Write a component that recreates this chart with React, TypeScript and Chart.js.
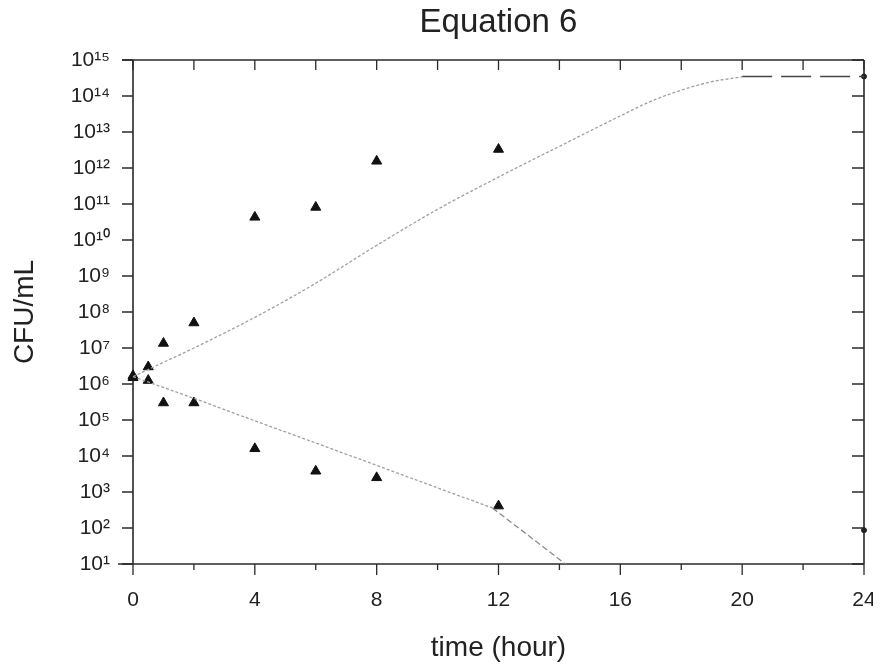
import React, { useEffect, useRef } from "react";
import { Chart, registerables } from "chart.js";

Chart.register(...registerables);

// ---- Data ----
const titleText = "Equation 6";
const xAxisTitle = "time (hour)";
const yAxisTitle = "CFU/mL";

// observed counts (triangles)
const growthHours = [0, 0.5, 1, 2, 4, 6, 8, 12];
const growthCFU = [1.7e6, 3e6, 1.35e7, 5e7, 4.3e10, 8.1e10, 1.55e12, 3.3e12];
const killHours = [0, 0.5, 1, 2, 4, 6, 8, 12];
const killCFU = [1.5e6, 1.26e6, 3e5, 3e5, 1.6e4, 3.8e3, 2.5e3, 4.1e2];

// end-point marks at 24 h
const endHours = [24, 24];
const endCFU = [3.5e14, 87];

// fitted curves
const upperFitHours = [0, 1, 2, 4, 6, 8, 10, 12, 14, 16, 17, 18, 19, 20];
const upperFitCFU = [1.6e6, 4e6, 1e7, 7.1e7, 6.3e8, 7.1e9, 7.1e10, 5.6e11, 4e12, 2.8e13, 7.1e13, 1.45e14, 2.5e14, 3.4e14];
const plateauHours = [20, 24];
const plateauCFU = [3.5e14, 3.5e14];
const lowerFitHours = [0, 2, 4, 6, 8, 10, 11.8];
const lowerFitCFU = [1.6e6, 4e5, 9.5e4, 2.3e4, 5.5e3, 1.3e3, 3.6e2];
const lowerTailHours = [11.8, 14.2];
const lowerTailCFU = [3.6e2, 10];

// axes
const xMin = 0;
const xMax = 24;
const xStep = 2;
const xLabelEvery = 4;
const yTickExponents = [1, 2, 3, 4, 5, 6, 7, 8, 9, 10, 11, 12, 13, 14, 15];

const SUP: Record<string, string> = {
  "0": "\u2070", "1": "\u00b9", "2": "\u00b2", "3": "\u00b3", "4": "\u2074",
  "5": "\u2075", "6": "\u2076", "7": "\u2077", "8": "\u2078", "9": "\u2079",
};
const supText = (n: number) => String(n).split("").map((c) => SUP[c] || c).join("");

const pts = (xs: number[], ys: number[]) => xs.map((x, i) => ({ x, y: ys[i] }));

const FONT = "'Liberation Sans', Arial, Helvetica, sans-serif";
const AXIS_COLOR = "#2a2a2a";
const W = 881;
const H = 669;

const framePlugin = {
  id: "frameTicks",
  beforeDatasetsDraw(chart: any) {
    const { ctx, chartArea: a, scales } = chart;
    const x = scales.x;
    const y = scales.y;
    ctx.save();
    ctx.strokeStyle = AXIS_COLOR;
    ctx.lineWidth = 1.6;
    ctx.beginPath();
    ctx.moveTo(a.left - 11, a.top);
    ctx.lineTo(a.right, a.top);
    ctx.moveTo(a.left - 15, a.bottom);
    ctx.lineTo(a.right, a.bottom);
    ctx.moveTo(a.left, a.top);
    ctx.lineTo(a.left, a.bottom);
    ctx.moveTo(a.right, a.top);
    ctx.lineTo(a.right, a.bottom);
    ctx.stroke();
    ctx.lineWidth = 1.3;
    ctx.beginPath();
    y.ticks.forEach((t: any) => {
      const py = y.getPixelForValue(t.value);
      ctx.moveTo(a.left - 11, py);
      ctx.lineTo(a.left, py);
      ctx.moveTo(a.right, py);
      ctx.lineTo(a.right - 12, py);
    });
    x.ticks.forEach((t: any) => {
      const px = x.getPixelForValue(t.value);
      const major = Math.abs(t.value % xLabelEvery) < 1e-9;
      ctx.moveTo(px, a.bottom);
      ctx.lineTo(px, a.bottom + (major ? 11 : 6));
      ctx.moveTo(px, a.top);
      ctx.lineTo(px, a.top + 10);
    });
    ctx.stroke();
    ctx.restore();
  },
};

export default function App() {
  const ref = useRef<HTMLCanvasElement | null>(null);

  useEffect(() => {
    if (!ref.current) return;
    const chart = new Chart(ref.current, {
      type: "line",
      data: {
        datasets: [
          {
            label: "growth fit",
            data: pts(upperFitHours, upperFitCFU),
            borderColor: "#a0a0a0",
            borderWidth: 1.3,
            borderDash: [3, 2],
            pointRadius: 0,
            cubicInterpolationMode: "monotone",
            fill: false,
          },
          {
            label: "plateau",
            data: pts(plateauHours, plateauCFU),
            borderColor: "#444",
            borderWidth: 1.5,
            borderDash: [30, 9],
            pointRadius: 0,
            fill: false,
          },
          {
            label: "kill fit",
            data: pts(lowerFitHours, lowerFitCFU),
            borderColor: "#a0a0a0",
            borderWidth: 1.3,
            borderDash: [3, 2],
            pointRadius: 0,
            tension: 0,
            fill: false,
          },
          {
            label: "kill tail",
            data: pts(lowerTailHours, lowerTailCFU),
            borderColor: "#8a8a8a",
            borderWidth: 1.3,
            borderDash: [6, 3],
            pointRadius: 0,
            tension: 0,
            fill: false,
          },
          {
            label: "growth observed",
            data: pts(growthHours, growthCFU),
            showLine: false,
            pointStyle: "triangle",
            pointRadius: 5.8,
            pointBackgroundColor: "#111",
            pointBorderColor: "#111",
            pointBorderWidth: 1,
            clip: false,
          },
          {
            label: "kill observed",
            data: pts(killHours, killCFU),
            showLine: false,
            pointStyle: "triangle",
            pointRadius: 5.8,
            pointBackgroundColor: "#111",
            pointBorderColor: "#111",
            pointBorderWidth: 1,
            clip: false,
          },
          {
            label: "24 h",
            data: pts(endHours, endCFU),
            showLine: false,
            pointStyle: "circle",
            pointRadius: 2.5,
            pointBackgroundColor: "#222",
            pointBorderColor: "#222",
            clip: false,
          },
        ] as any,
      },
      options: {
        animation: false,
        responsive: false,
        maintainAspectRatio: false,
        layout: { padding: { top: 0, left: 0, right: 17, bottom: 0 }, autoPadding: false } as any,
        plugins: {
          legend: { display: false },
          tooltip: { enabled: false },
          title: {
            display: true,
            fullSize: false,
            text: titleText,
            color: "#222",
            font: { family: FONT, size: 33, weight: "normal", lineHeight: 1 },
            padding: { top: 6, bottom: 21 },
          },
        },
        scales: {
          x: {
            type: "linear",
            min: xMin,
            max: xMax,
            border: { display: false },
            grid: { display: true, drawOnChartArea: false, drawTicks: false },
            ticks: {
              stepSize: xStep,
              padding: 24,
              color: "#222",
              font: { family: FONT, size: 21 },
              maxRotation: 0,
              autoSkip: false,
              callback: (v: any) => (Number(v) % xLabelEvery === 0 ? String(v) : ""),
            },
            title: {
              display: true,
              text: xAxisTitle,
              color: "#222",
              font: { family: FONT, size: 28, lineHeight: 1 },
              padding: { top: 0, bottom: 7 },
            },
            afterFit: (s: any) => {
              s.height = 105;
              s.paddingLeft = 0;
              s.paddingRight = 0;
            },
          },
          y: {
            type: "logarithmic",
            min: 10,
            max: 1e15,
            border: { display: false },
            grid: { display: true, drawOnChartArea: false, drawTicks: false },
            afterBuildTicks: (s: any) => {
              s.ticks = yTickExponents.map((e) => ({ value: Math.pow(10, e) }));
            },
            ticks: {
              padding: 23,
              color: "#222",
              font: { family: FONT, size: 21 },
              autoSkip: false,
              callback: (v: any) => "10" + supText(Math.round(Math.log10(Number(v)))),
            },
            title: {
              display: true,
              text: yAxisTitle,
              color: "#222",
              font: { family: FONT, size: 28, lineHeight: 1 },
              padding: { top: 11, bottom: 0 },
            },
            afterFit: (s: any) => {
              s.width = 133;
              s.paddingTop = 0;
              s.paddingBottom = 0;
            },
          },
        },
      } as any,
      plugins: [framePlugin],
    });
    return () => chart.destroy();
  }, []);

  return (
    <div style={{ width: W, height: H, margin: "-8px 0 0 -8px", overflow: "hidden" }}>
      <canvas ref={ref} width={W} height={H} style={{ display: "block", width: W, height: H }} />
    </div>
  );
}
